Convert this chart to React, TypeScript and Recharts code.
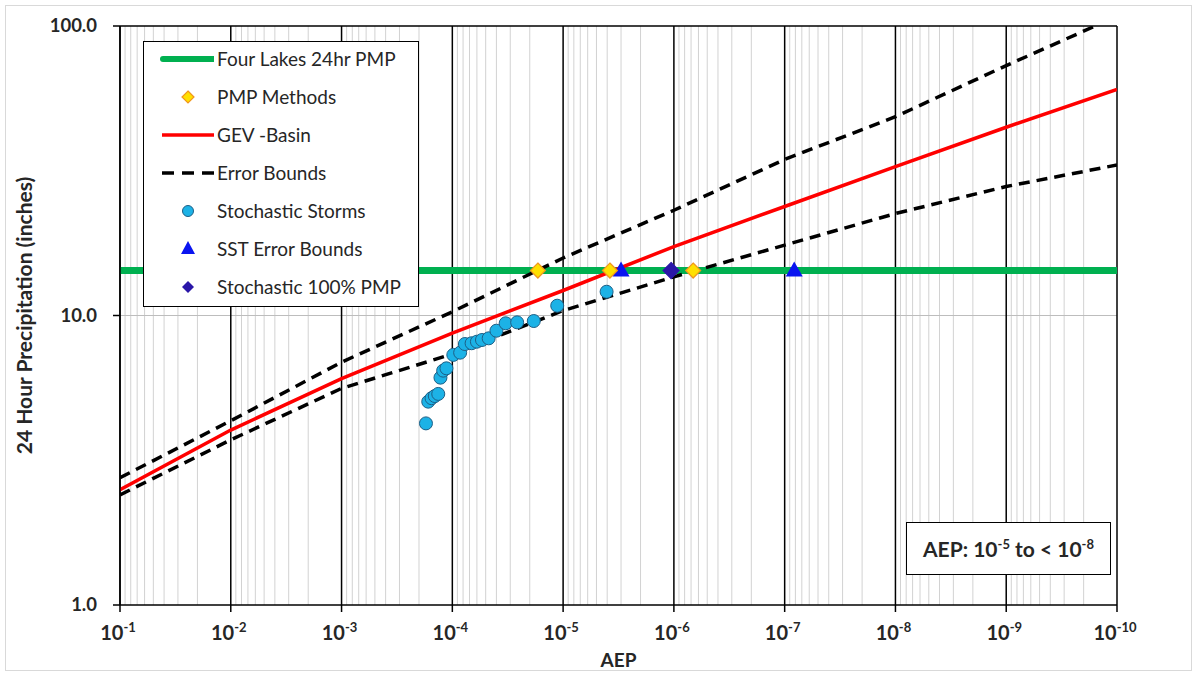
import React from "react";
import {
  ComposedChart,
  Line,
  Scatter,
  XAxis,
  YAxis,
  ReferenceLine,
} from "recharts";

type Pt = { x: number; y: number };

// AEP decades, left (1e-1) to right (1e-10)
const decadeTicks = [1e-1, 1e-2, 1e-3, 1e-4, 1e-5, 1e-6, 1e-7, 1e-8, 1e-9, 1e-10];
const precipTicks = [1, 10, 100];

// curves read at each decade
const gevBasin = [2.5, 4.02, 6.05, 8.7, 12.2, 17.3, 23.8, 32.7, 44.7, 60.4];
const upperBound = [2.75, 4.33, 6.9, 10.3, 15.8, 23.1, 34.6, 48.6, 73.0, 108.0];
const lowerBound = [2.4, 3.72, 5.6, 7.36, 10.4, 13.6, 17.5, 22.5, 27.9, 33.1];

const fourLakesPmp = 14.3;

const stormAep = [
  1.73e-4, 1.65e-4, 1.54e-4, 1.44e-4, 1.34e-4, 1.28e-4, 1.21e-4, 1.13e-4, 9.8e-5, 8.5e-5,
  7.7e-5, 6.7e-5, 6.0e-5, 5.4e-5, 4.7e-5, 4.0e-5, 3.3e-5, 2.6e-5, 1.84e-5, 1.13e-5, 4.05e-6,
];
const stormPrecip = [
  4.24, 5.04, 5.18, 5.27, 5.36, 6.1, 6.45, 6.57, 7.31, 7.44,
  7.97, 8.02, 8.12, 8.23, 8.34, 8.86, 9.4, 9.47, 9.57, 10.81, 12.08,
];

const pmpMethodAep = [1.69e-5, 3.78e-6, 6.7e-7];
const sstBoundAep = [3.0e-6, 8.2e-8];
const stochPmpAep = [1.06e-6];

const zip = (xs: number[], ys: number[]): Pt[] => xs.map((x, i) => ({ x, y: ys[i] }));
const flat = (xs: number[], y: number): Pt[] => xs.map((x) => ({ x, y }));

const gevData = zip(decadeTicks, gevBasin);
const upperData = zip(decadeTicks, upperBound);
const lowerData = zip(decadeTicks, lowerBound);
const pmpLine = flat([decadeTicks[0], decadeTicks[decadeTicks.length - 1]], fourLakesPmp);
const stormData = zip(stormAep, stormPrecip);
const pmpMethodData = flat(pmpMethodAep, fourLakesPmp);
const sstData = flat(sstBoundAep, fourLakesPmp);
const stochPmpData = flat(stochPmpAep, fourLakesPmp);

// minor grid 2..9 within each decade
const minorGrid: number[] = [];
for (let e = -10; e < -1; e++) {
  for (let m = 2; m <= 9; m++) minorGrid.push(m * Math.pow(10, e));
}

const FONT = "Lato, 'Open Sans', sans-serif";
const TXT = "#262626";

const AepTick = (props: any) => {
  const { x, y, payload } = props;
  const exp = Math.round(Math.log10(payload.value));
  return (
    <text x={x - 2} y={y + 28} textAnchor="middle" fontFamily={FONT} fontWeight={700} fontSize={20} fill={TXT}>
      <tspan>10</tspan>
      <tspan dy={-8} fontSize={13}>{exp}</tspan>
    </text>
  );
};

const PrecipTick = (props: any) => {
  const { x, y, payload } = props;
  return (
    <text x={x} y={y} dy={6} textAnchor="end" fontFamily={FONT} fontWeight={700} fontSize={18.5} fill={TXT}>
      {Number(payload.value).toFixed(1)}
    </text>
  );
};

const Circle = (p: any) => (
  <circle cx={p.cx} cy={p.cy} r={6.5} fill="#1cb2e6" stroke="#1d5f86" strokeWidth={1} />
);
const Diamond = (fill: string, stroke: string, r: number) => (p: any) => (
  <path
    d={`M${p.cx},${p.cy - r}L${p.cx + r},${p.cy}L${p.cx},${p.cy + r}L${p.cx - r},${p.cy}Z`}
    fill={fill}
    stroke={stroke}
    strokeWidth={1.2}
  />
);
const Triangle = (p: any) => (
  <path d={`M${p.cx},${p.cy - 9}L${p.cx + 8.5},${p.cy + 6}L${p.cx - 8.5},${p.cy + 6}Z`} fill="#0a14f0" />
);

const legendItems = [
  { label: "Four Lakes 24hr PMP", icon: "green" },
  { label: "PMP Methods", icon: "ydiamond" },
  { label: "GEV -Basin", icon: "red" },
  { label: "Error Bounds", icon: "dash" },
  { label: "Stochastic Storms", icon: "circle" },
  { label: "SST Error Bounds", icon: "tri" },
  { label: "Stochastic 100% PMP", icon: "bdiamond" },
];

function LegendIcon({ kind }: { kind: string }) {
  return (
    <svg width={70} height={20}>
      {kind === "green" && <line x1={19} y1={10} x2={69} y2={10} stroke="#00b050" strokeWidth={6} strokeLinecap="round" />}
      {kind === "red" && <line x1={18} y1={10} x2={70} y2={10} stroke="#ff0000" strokeWidth={3.5} />}
      {kind === "dash" && (
        <line x1={18} y1={10} x2={70} y2={10} stroke="#000" strokeWidth={3.5} strokeDasharray="12 8" />
      )}
      {kind === "ydiamond" && <path d="M44,4L50,10L44,16L38,10Z" fill="#ffe000" stroke="#f0961e" strokeWidth={1.2} />}
      {kind === "circle" && <circle cx={44} cy={10} r={5.5} fill="#1cb2e6" stroke="#1d5f86" />}
      {kind === "tri" && <path d="M44,2L51,15L37,15Z" fill="#0a14f0" />}
      {kind === "bdiamond" && <path d="M44,4L50,10L44,16L38,10Z" fill="#2a16a8" />}
    </svg>
  );
}

export default function App() {
  return (
    <div style={{ position: "absolute", left: 0, top: 0, width: 1196, height: 674, background: "#fff" }}>
      <div
        style={{
          position: "absolute",
          left: 5,
          top: 5,
          width: 1185,
          height: 664,
          border: "1px solid #d9d9d9",
        }}
      />
      <ComposedChart
        width={1196}
        height={674}
        margin={{ top: 26, right: 79, bottom: 0, left: 0 }}
        style={{ position: "absolute", left: 0, top: 0 }}
      >
        <XAxis
          type="number"
          dataKey="x"
          scale="log"
          domain={[1e-10, 1e-1]}
          reversed
          allowDataOverflow
          ticks={decadeTicks}
          interval={0}
          height={69}
          tickSize={7}
          tickMargin={0}
          tick={<AepTick />}
          axisLine={{ stroke: "#000", strokeWidth: 1.5 }}
          tickLine={{ stroke: "#000", strokeWidth: 1.5 }}
          label={{
            value: "AEP",
            position: "center",
            dy: 21,
            style: { fontFamily: FONT, fontWeight: 700, fontSize: 19, fill: TXT },
          }}
        />
        <YAxis
          type="number"
          dataKey="y"
          scale="log"
          domain={[1, 100]}
          allowDataOverflow
          ticks={precipTicks}
          interval={0}
          width={120}
          tickSize={7}
          tickMargin={16}
          tick={<PrecipTick />}
          axisLine={{ stroke: "#000", strokeWidth: 1.5 }}
          tickLine={{ stroke: "#000", strokeWidth: 1.5 }}
          label={{
            value: "24 Hour Precipitation (inches)",
            angle: -90,
            position: "center",
            dx: -35,
            style: { fontFamily: FONT, fontWeight: 700, fontSize: 21, fill: TXT, textAnchor: "middle" },
          }}
        />
        {minorGrid.map((v) => (
          <ReferenceLine key={`m${v}`} x={v} stroke="#d2d2d2" strokeWidth={1} />
        ))}
        <ReferenceLine y={10} stroke="#bdbdbd" strokeWidth={1} />
        {decadeTicks.map((v) => (
          <ReferenceLine key={`d${v}`} x={v} stroke="#000" strokeWidth={1.5} />
        ))}
        <ReferenceLine y={100} stroke="#000" strokeWidth={1.5} />
        <Line data={pmpLine} dataKey="y" stroke="#00b050" strokeWidth={7} dot={false} isAnimationActive={false} />
        <Line
          data={upperData}
          dataKey="y"
          stroke="#000"
          strokeWidth={3.5}
          strokeDasharray="11 7"
          dot={false}
          isAnimationActive={false}
        />
        <Line
          data={lowerData}
          dataKey="y"
          stroke="#000"
          strokeWidth={3.5}
          strokeDasharray="11 7"
          dot={false}
          isAnimationActive={false}
        />
        <Line data={gevData} dataKey="y" stroke="#ff0000" strokeWidth={3.5} dot={false} isAnimationActive={false} />
        <Scatter data={stormData} dataKey="y" shape={Circle} isAnimationActive={false} />
        <Scatter data={sstData} dataKey="y" shape={Triangle} isAnimationActive={false} />
        <Scatter data={stochPmpData} dataKey="y" shape={Diamond("#2a16a8", "#2a16a8", 8)} isAnimationActive={false} />
        <Scatter data={pmpMethodData} dataKey="y" shape={Diamond("#ffe000", "#f0961e", 7.5)} isAnimationActive={false} />
      </ComposedChart>

      <div
        style={{
          position: "absolute",
          left: 143,
          top: 41,
          width: 274,
          height: 264,
          border: "1.5px solid #000",
          background: "#fff",
          fontFamily: FONT,
          fontSize: 19,
          color: TXT,
        }}
      >
        {legendItems.map((it, i) => (
          <div
            key={it.label}
            style={{ position: "absolute", left: 0, top: 6 + i * 38, height: 22, display: "flex", alignItems: "center" }}
          >
            <LegendIcon kind={it.icon} />
            <span style={{ marginLeft: 3, whiteSpace: "nowrap", lineHeight: "22px" }}>{it.label}</span>
          </div>
        ))}
      </div>

      <div
        style={{
          position: "absolute",
          left: 906,
          top: 522,
          width: 203,
          height: 51,
          border: "1.5px solid #000",
          background: "#fff",
          fontFamily: FONT,
          fontWeight: 700,
          fontSize: 21,
          color: TXT,
          display: "flex",
          alignItems: "center",
          justifyContent: "center",
        }}
      >
        <span>
          AEP: 10<sup style={{ fontSize: 13 }}>-5</sup> to &lt; 10<sup style={{ fontSize: 13 }}>-8</sup>
        </span>
      </div>
    </div>
  );
}
